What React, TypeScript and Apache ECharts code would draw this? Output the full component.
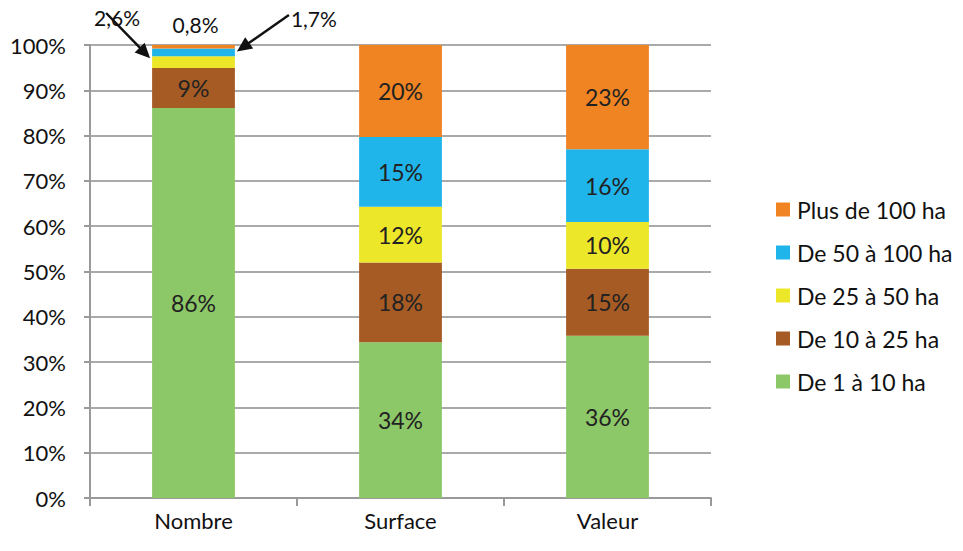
import React, { useEffect, useRef } from "react";
import * as echarts from "echarts";

const categories = ["Nombre", "Surface", "Valeur"];
const seriesNames = ["De 1 à 10 ha", "De 10 à 25 ha", "De 25 à 50 ha", "De 50 à 100 ha", "Plus de 100 ha"];
const de1a10 = [86.1, 34.4, 35.8];
const de10a25 = [8.8, 17.6, 14.8];
const de25a50 = [2.6, 12.3, 10.3];
const de50a100 = [1.7, 15.4, 16.1];
const plus100 = [0.8, 20.3, 23.0];
const colors = ["#8DC868", "#A65B24", "#EDE72A", "#1FB5EA", "#F08423"];
const yTicks = [0, 10, 20, 30, 40, 50, 60, 70, 80, 90, 100];

const FONT = "Lato, 'Open Sans', sans-serif";

export default function App() {
  const ref = useRef<HTMLDivElement>(null);
  useEffect(() => {
    if (!ref.current) return;
    const chart = echarts.init(ref.current, null, { renderer: "svg" });
    const all = [de1a10, de10a25, de25a50, de50a100, plus100];
    const series = all.map((vals, i) => ({
      name: seriesNames[i],
      type: "bar",
      stack: "total",
      barWidth: "40%",
      itemStyle: { color: colors[i] },
      label: {
        show: true,
        position: "inside",
        color: "#222",
        fontSize: 23,
        fontFamily: FONT,
        formatter: (p: any) => Math.round(p.value) + "%",
      },
      data: vals.map((v) => (v < 5 ? { value: v, label: { show: false } } : { value: v })),
    }));
    chart.setOption({
      animation: false,
      backgroundColor: "#fff",
      textStyle: { fontFamily: FONT },
      grid: { left: 90, right: 252, top: 45, bottom: 53 },
      legend: {
        orient: "vertical",
        left: 771,
        top: 193,
        itemWidth: 14,
        itemHeight: 14,
        itemGap: 20,
        icon: "rect",
        data: seriesNames.slice().reverse(),
        textStyle: { fontSize: 23, color: "#111", fontFamily: FONT, padding: [0, 0, 0, 2] },
      },
      xAxis: {
        type: "category",
        data: categories,
        axisLine: { lineStyle: { color: "#999", width: 2 } },
        axisTick: { show: true, length: 8, lineStyle: { color: "#999", width: 2 } },
        axisLabel: { fontSize: 22, color: "#111", margin: 11, fontFamily: FONT },
      },
      yAxis: {
        type: "value",
        min: 0,
        max: 100,
        interval: 10,
        axisLine: { show: true, lineStyle: { color: "#999", width: 2 } },
        axisTick: { show: true, length: 6, lineStyle: { color: "#999", width: 2 } },
        splitLine: { lineStyle: { color: "#aaa", width: 2 } },
        axisLabel: {
          fontSize: 22,
          color: "#111",
          margin: 24,
          fontFamily: FONT,
          formatter: (v: number) => (yTicks.includes(v) ? v + "%" : ""),
        },
      },
      series,
    });

    // Annotations for the small Nombre segments
    const cx = chart.convertToPixel({ xAxisIndex: 0 }, categories[0]) as number;
    const halfBar = (((chart.getWidth() - 90 - 252) / categories.length) * 0.4) / 2;
    const yAt = (v: number) => chart.convertToPixel({ yAxisIndex: 0 }, v) as number;
    const yellowTop = yAt(de1a10[0] + de10a25[0] + de25a50[0]);
    const blueMid = yAt(de1a10[0] + de10a25[0] + de25a50[0] + de50a100[0] / 2);
    const fmt = (v: number) => v.toFixed(1).replace(".", ",") + "%";
    const arrowStyle = { stroke: "#111", lineWidth: 2.5 };
    const head = (tx: number, ty: number, fx: number, fy: number) => {
      const ang = Math.atan2(ty - fy, tx - fx);
      const L = 15, W = 7;
      const bx = tx - L * Math.cos(ang), by = ty - L * Math.sin(ang);
      return {
        type: "polygon",
        shape: {
          points: [
            [tx, ty],
            [bx + W * Math.sin(ang), by - W * Math.cos(ang)],
            [bx - W * Math.sin(ang), by + W * Math.cos(ang)],
          ],
        },
        style: { fill: "#111" },
      };
    };
    const t1 = [cx - halfBar - 2, yellowTop + 2];
    const f1 = [cx - halfBar - 46, 13];
    const t2 = [cx + halfBar + 2, blueMid - 1];
    const f2 = [cx + halfBar + 54, 15];
    const dir = (t: number[], f: number[], k: number) => {
      const d = Math.hypot(t[0] - f[0], t[1] - f[1]);
      return [t[0] - ((t[0] - f[0]) / d) * k, t[1] - ((t[1] - f[1]) / d) * k];
    };
    const e1 = dir(t1, f1, 12);
    const e2 = dir(t2, f2, 12);
    chart.setOption({
      graphic: [
        {
          type: "text",
          x: cx - halfBar - 58,
          y: 7,
          style: { text: fmt(de25a50[0]), fontSize: 21, fill: "#111", fontFamily: FONT },
        },
        {
          type: "text",
          x: cx + 2,
          y: 14,
          style: { text: fmt(plus100[0]), fontSize: 21, fill: "#111", fontFamily: FONT, align: "center" },
        },
        {
          type: "text",
          x: cx + halfBar + 56,
          y: 8,
          style: { text: fmt(de50a100[0]), fontSize: 21, fill: "#111", fontFamily: FONT },
        },
        { type: "line", shape: { x1: f1[0], y1: f1[1], x2: e1[0], y2: e1[1] }, style: arrowStyle },
        head(t1[0], t1[1], f1[0], f1[1]),
        { type: "line", shape: { x1: f2[0], y1: f2[1], x2: e2[0], y2: e2[1] }, style: arrowStyle },
        head(t2[0], t2[1], f2[0], f2[1]),
      ],
    });
    return () => chart.dispose();
  }, []);
  return (
    <div
      ref={ref}
      style={{ position: "fixed", left: 0, top: 0, width: 963, height: 551, background: "#fff" }}
    />
  );
}
